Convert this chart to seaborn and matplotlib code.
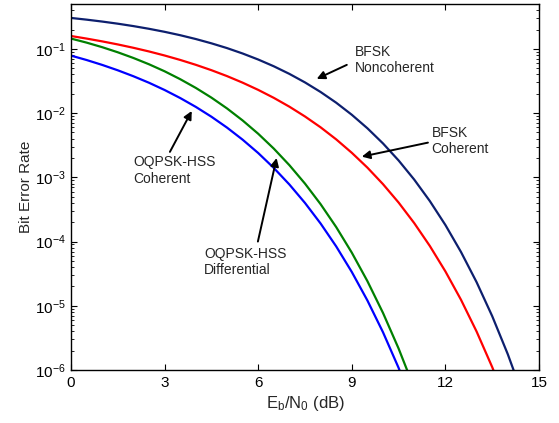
import numpy as np
import pandas as pd
import matplotlib
matplotlib.use("Agg")
import matplotlib.pyplot as plt
import seaborn as sns
from matplotlib.ticker import LogLocator, LogFormatterMathtext, NullFormatter, FixedLocator

# ---- data ----
ebno_db = [0, 0.5, 1, 1.5, 2, 2.5, 3, 3.5, 4, 4.5, 5, 5.5, 6, 6.5, 7, 7.5,
           8, 8.5, 9, 9.5, 10, 10.5, 11, 11.5, 12, 12.5, 13, 13.5, 14, 14.5, 15]

ber_bfsk_noncoh = [0.3033, 0.2853, 0.2664, 0.2468, 0.2264, 0.2055, 0.1844, 0.1633,
                   0.1424, 0.1221, 0.1029, 0.0848, 0.0683, 0.0536, 0.0408, 0.03005,
                   0.02132, 0.01452, 0.00942, 0.005806, 0.00337, 0.001831, 9.23e-4,
                   4.28e-4, 1.81e-4, 6.88e-5, 2.33e-5, 6.9e-6, 1.76e-6, 3.8e-7, 6.8e-8]

ber_bfsk_coh = [0.1587, 0.1447, 0.1309, 0.1173, 0.1040, 0.0912, 0.0789, 0.0673,
                0.0565, 0.0466, 0.0377, 0.0298, 0.0230, 0.01728, 0.01259, 0.00886,
                0.00601, 0.00390, 0.00241, 0.001417, 7.83e-4, 4.05e-4, 1.94e-4,
                8.55e-5, 3.43e-5, 1.24e-5, 3.97e-6, 1.11e-6, 2.69e-7, None, None]

ber_oqpsk_diff = [0.1448, 0.1252, 0.1063, 0.0885, 0.0722, 0.0576, 0.0448, 0.03375,
                  0.02469, 0.01743, 0.01183, 0.00769, 0.00477, 0.0028, 1.546e-3,
                  7.98e-4, 3.82e-4, 1.68e-4, 6.72e-5, 2.42e-5, 7.74e-6, 2.16e-6,
                  5.22e-7, None, None, None, None, None, None, None, None]

ber_oqpsk_coh = [0.0786, 0.0671, 0.0563, 0.0464, 0.0375, 0.0297, 0.0229, 0.01717,
                 0.01250, 0.00879, 0.00595, 0.00386, 0.00239, 0.00140, 7.73e-4,
                 3.99e-4, 1.91e-4, 8.40e-5, 3.36e-5, 1.21e-5, 3.87e-6, 1.08e-6,
                 2.61e-7, None, None, None, None, None, None, None, None]

series_names = ["BFSK Noncoherent", "BFSK Coherent", "OQPSK-HSS Differential", "OQPSK-HSS Coherent"]
series_colors = ["#0d1f6e", "#ff0000", "#008000", "#0000ff"]
x_ticks = [0, 3, 6, 9, 12, 15]

rows = []
for name, vals in zip(series_names,
                      [ber_bfsk_noncoh, ber_bfsk_coh, ber_oqpsk_diff, ber_oqpsk_coh]):
    for x, v in zip(ebno_db, vals):
        if v is not None:
            rows.append({"EbNo": x, "BER": v, "series": name})
df = pd.DataFrame(rows)

# ---- style ----
sns.set_style("ticks")
plt.rcParams["font.family"] = ["Liberation Sans", "DejaVu Sans"]
plt.rcParams["mathtext.fontset"] = "custom"
plt.rcParams["mathtext.rm"] = "Liberation Sans"
plt.rcParams["mathtext.it"] = "Liberation Sans:italic"
plt.rcParams["mathtext.bf"] = "Liberation Sans:bold"

fig = plt.figure(figsize=(5.59, 4.23), dpi=100)
ax = fig.add_axes([71 / 559, 53 / 423, 468 / 559, 366 / 423])

sns.lineplot(data=df, x="EbNo", y="BER", hue="series", hue_order=series_names,
             palette=dict(zip(series_names, series_colors)), linewidth=1.6,
             legend=False, ax=ax, sort=True, estimator=None)

ax.set_yscale("log")
ax.set_xlim(0, 15)
ax.set_ylim(1e-6, 0.5)
ax.xaxis.set_major_locator(FixedLocator(x_ticks))
ax.set_xticklabels([str(t) for t in x_ticks])
ax.yaxis.set_major_locator(LogLocator(base=10, numticks=10))
ax.yaxis.set_major_formatter(LogFormatterMathtext())
ax.yaxis.set_minor_locator(LogLocator(base=10, subs=np.arange(2, 10), numticks=20))
ax.yaxis.set_minor_formatter(NullFormatter())

ax.tick_params(which="both", direction="in", top=True, right=True, labelsize=11,
               colors="black", pad=4)
ax.tick_params(which="major", length=4, width=0.8)
ax.tick_params(which="minor", length=2.2, width=0.6)
for s in ax.spines.values():
    s.set_visible(True)
    s.set_color("black")
    s.set_linewidth(1.0)

ax.set_xlabel(r"E$_\mathrm{b}$/N$_\mathrm{0}$ (dB)", fontsize=12, labelpad=3)
ax.set_ylabel("Bit Error Rate", fontsize=11, labelpad=1)

# ---- annotations ----
arrow = dict(arrowstyle="-|>", color="black", lw=1.4, mutation_scale=12,
             shrinkA=0, shrinkB=0)
txt_kw = dict(fontsize=10, ha="left", va="center", linespacing=1.2)

ax.text(9.10, 0.0674, "BFSK\nNoncoherent", **txt_kw)
ax.annotate("", xy=(7.875, 0.0341), xytext=(8.84, 0.0564), arrowprops=arrow)

ax.text(11.56, 0.00369, "BFSK\nCoherent", **txt_kw)
ax.annotate("", xy=(9.32, 0.0021), xytext=(11.44, 0.00347), arrowprops=arrow)

ax.text(1.99, 0.00128, "OQPSK-HSS\nCoherent", **txt_kw)
ax.annotate("", xy=(3.87, 0.0108), xytext=(3.17, 0.00249), arrowprops=arrow)

ax.text(4.26, 4.8e-5, "OQPSK-HSS\nDifferential", **txt_kw)
ax.annotate("", xy=(6.59, 0.002), xytext=(5.99, 1.0e-4), arrowprops=arrow)

fig.savefig("out.png", dpi=100)
